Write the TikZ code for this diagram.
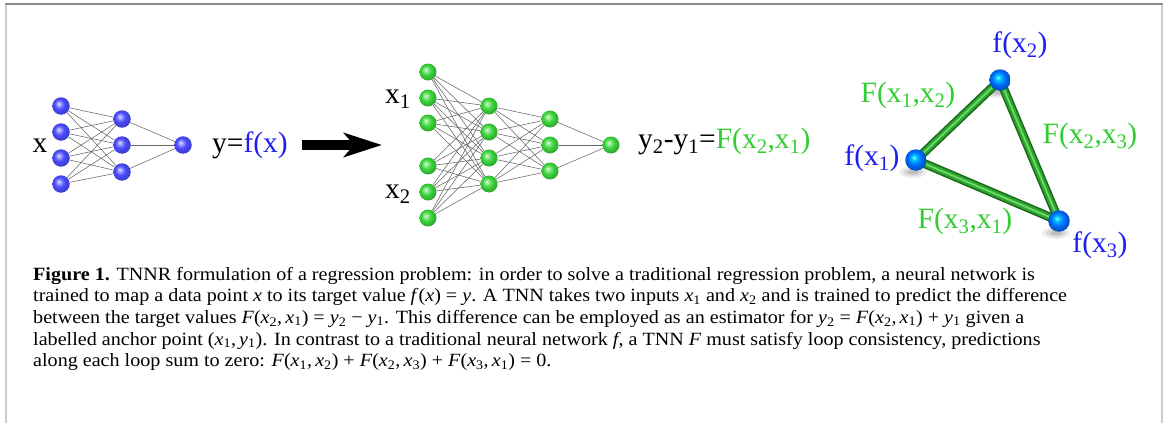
\documentclass[tikz,border=0pt]{standalone}
\usepackage{fontspec}
\setmainfont{Liberation Serif}
\newfontfamily\capfont{Liberation Serif}[FakeStretch=1.075]
\usetikzlibrary{arrows.meta,backgrounds}

\definecolor{fblue}{RGB}{30,30,240}
\definecolor{fgreen}{RGB}{50,205,50}
\definecolor{nblue}{RGB}{75,75,255}
\definecolor{ngreen}{RGB}{60,215,60}
\definecolor{tblue}{RGB}{0,110,255}
\definecolor{tubedark}{RGB}{25,105,25}
\definecolor{tubemid}{RGB}{45,165,45}
\definecolor{tubelight}{RGB}{110,215,110}
\definecolor{framedark}{RGB}{140,140,140}
\definecolor{framelight}{RGB}{205,205,205}

% glossy spheres: highlight up and to the left, darker rim
\pgfdeclareradialshading{sphblue}{\pgfqpoint{-7bp}{7bp}}{%
  color(0bp)=(white!85!nblue); color(5bp)=(nblue!50!white);
  color(14bp)=(nblue); color(25bp)=(nblue!82!black); color(50bp)=(nblue!82!black)}
\pgfdeclareradialshading{sphgreen}{\pgfqpoint{-7bp}{7bp}}{%
  color(0bp)=(white!85!ngreen); color(5bp)=(ngreen!50!white);
  color(14bp)=(ngreen); color(25bp)=(ngreen!80!black); color(50bp)=(ngreen!80!black)}
\pgfdeclareradialshading{sphcyan}{\pgfqpoint{-5bp}{6bp}}{%
  color(0bp)=(cyan!45!white); color(6bp)=(cyan!60!tblue);
  color(15bp)=(tblue); color(25bp)=(tblue!75!black); color(50bp)=(tblue!75!black)}

% subscript helper
\newcommand\lo[1]{\textsubscript{#1}}
% italic math-like letter in running text
\newcommand\mv[1]{\textit{#1}}

\begin{document}
\begin{tikzpicture}[x=1pt,y=-1pt,
  bnode/.style={circle,inner sep=0pt,minimum size=17.5pt,shading=sphblue},
  gnode/.style={circle,inner sep=0pt,minimum size=17pt,shading=sphgreen},
  tnode/.style={circle,inner sep=0pt,minimum size=21.5pt,shading=sphcyan},
  wire/.style={draw=black!60,line width=0.55pt},
  lab/.style={inner sep=0pt,font=\fontsize{29.5}{32}\selectfont},
  capline/.style={anchor=base west,inner sep=0pt,font=\capfont\fontsize{18.7}{21}\selectfont},
  tube outer/.style={draw=tubedark,line width=9pt},
  tube inner/.style={draw=tubemid,line width=6pt},
  tube glow/.style={draw=tubelight,line width=1.8pt},
]
\useasboundingbox (0,0) rectangle (1168,423);

% frame
\draw[framedark,line width=1.3pt] (5,4) -- (1163,4);
\draw[framelight,line width=2pt] (6,4.6) -- (6,423);
\draw[framelight,line width=2pt] (1162,4.6) -- (1162,423);

% ---- ordinary network f ----
\foreach \y [count=\i] in {106,132,158,184} \node[bnode] (a\i) at (61,\y) {};
\foreach \y [count=\i] in {119,145,172} \node[bnode] (b\i) at (122,\y) {};
\node[bnode] (c) at (183,145) {};
\foreach \i in {1,...,4} \foreach \j in {1,2,3} \draw[wire] (a\i) -- (b\j);
\foreach \j in {1,2,3} \draw[wire] (b\j) -- (c);

\node[lab,anchor=base] (lx) at (40,152) {x};
\node[lab,anchor=base west] (lf) at (212,152) {y=\textcolor{fblue}{f(x)}};

% big arrow
\coordinate (ar1) at (302,145);
\coordinate (ar2) at (382,145);
\draw[line width=10pt,-{Stealth[length=38pt,width=24pt,inset=10pt]}] (ar1) -- (ar2);

% ---- twin network F ----
\foreach \y [count=\i] in {72,98,123,166,192,218} \node[gnode] (p\i) at (428,\y) {};
\foreach \y [count=\i] in {106,132,158,184} \node[gnode] (q\i) at (489,\y) {};
\foreach \y [count=\i] in {119,145,171} \node[gnode] (r\i) at (550,\y) {};
\node[gnode] (s) at (611,145) {};
\foreach \i in {1,...,6} \foreach \j in {1,...,4} \draw[wire] (p\i) -- (q\j);
\foreach \i in {1,...,4} \foreach \j in {1,2,3} \draw[wire] (q\i) -- (r\j);
\foreach \j in {1,2,3} \draw[wire] (r\j) -- (s);

\node[lab,anchor=base] (lx1) at (398,103) {x\lo{1}};
\node[lab,anchor=base] (lx2) at (398,198) {x\lo{2}};
\node[lab,anchor=base west] (lF) at (638,148)
  {y\lo{2}-y\lo{1}=\textcolor{fgreen}{F(x\lo{2},x\lo{1})}};

% ---- loop of three points ----
\node[tnode] (t1) at (916,160) {};
\node[tnode] (t2) at (1000,80) {};
\node[tnode] (t3) at (1059,221) {};
\begin{scope}[on background layer]
  \foreach \t in {t1,t2,t3} {
    \fill[black,opacity=0.07,shift={(\t.center)}] (-3,12) ellipse [x radius=14,y radius=6];
    \fill[black,opacity=0.09,shift={(\t.center)}] (-3,12) ellipse [x radius=10,y radius=4];
    \fill[black,opacity=0.11,shift={(\t.center)}] (-3,12) ellipse [x radius=6,y radius=2.5];
  }
  \foreach \u/\v in {t1/t2,t2/t3,t3/t1} {
    \draw[tube outer] (\u.center) -- (\v.center);
    \draw[tube inner] (\u.center) -- (\v.center);
    \draw[tube glow] (\u.center) -- (\v.center);
  }
\end{scope}

\node[lab,anchor=base,text=fblue] (f2) at (1020,52) {f(x\lo{2})};
\node[lab,anchor=base,text=fblue] (f1) at (872,165) {f(x\lo{1})};
\node[lab,anchor=base,text=fblue] (f3) at (1100,252) {f(x\lo{3})};
\node[lab,anchor=base,text=fgreen] (F12) at (908,102) {F(x\lo{1},x\lo{2})};
\node[lab,anchor=base,text=fgreen] (F23) at (1090,143) {F(x\lo{2},x\lo{3})};
\node[lab,anchor=base,text=fgreen] (F31) at (965,228) {F(x\lo{3},x\lo{1})};

% ---- caption ----
\node[capline] (cap1) at (33,280) {\textbf{Figure 1.} TNNR formulation of a regression problem: in order to solve a traditional regression problem, a neural network is};
\node[capline] (cap2) at (33,301.7) {trained to map a data point \mv{x} to its target value \mv{f}(\mv{x}) = \mv{y}. A TNN takes two inputs \mv{x}\lo{1} and \mv{x}\lo{2} and is trained to predict the difference};
\node[capline] (cap3) at (33,323.3) {between the target values \mv{F}(\mv{x}\lo{2},\,\mv{x}\lo{1}) = \mv{y}\lo{2} − \mv{y}\lo{1}. This difference can be employed as an estimator for \mv{y}\lo{2} = \mv{F}(\mv{x}\lo{2},\,\mv{x}\lo{1}) + \mv{y}\lo{1} given a};
\node[capline] (cap4) at (33,345) {labelled anchor point (\mv{x}\lo{1},\,\mv{y}\lo{1}). In contrast to a traditional neural network \mv{f}, a TNN \mv{F} must satisfy loop consistency, predictions};
\node[capline] (cap5) at (33,366.7) {along each loop sum to zero: \mv{F}(\mv{x}\lo{1},\,\mv{x}\lo{2}) + \mv{F}(\mv{x}\lo{2},\,\mv{x}\lo{3}) + \mv{F}(\mv{x}\lo{3},\,\mv{x}\lo{1}) = 0.};
\end{tikzpicture}
\end{document}
